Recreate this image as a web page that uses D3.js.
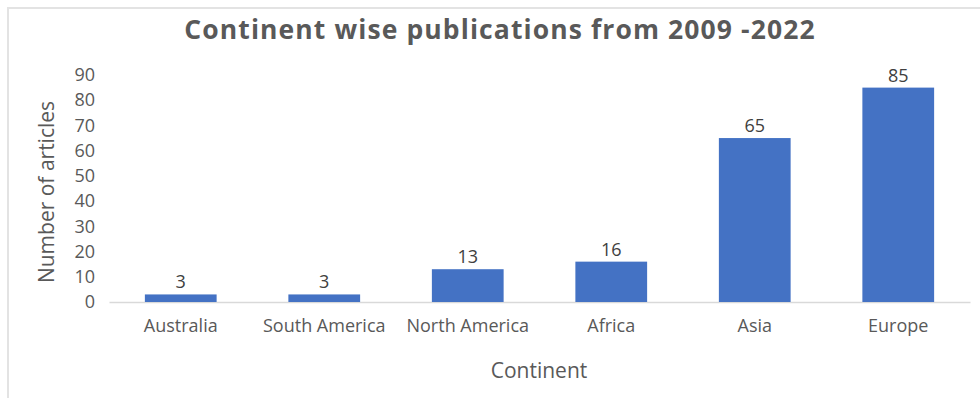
<!DOCTYPE html>
<html>
<head>
<meta charset="utf-8">
<script src="https://cdn.jsdelivr.net/npm/d3@7"></script>
<style>
	body { margin: 0; background: #fff; }
	svg { display: block; font-family: "Open Sans", sans-serif; }
</style>
</head>
<body>
<script>
var continents = ["Australia", "South America", "North America", "Africa", "Asia", "Europe"];
var articles = [3, 3, 13, 16, 65, 85];
var yTicks = [0, 10, 20, 30, 40, 50, 60, 70, 80, 90];
var title = "Continent wise publications from 2009 -2022";

var W = 980, H = 403;
var m = { left: 109, right: 10, top: 75, bottom: 101 }; // plot box 109..970, 75..302

var svg = d3.select("body").append("svg").attr("width", W).attr("height", H);

// frame
svg.append("path")
	.attr("d", "M8,398 L8,8 L980,8")
	.attr("fill", "none")
	.attr("stroke", "#e3e3e3")
	.attr("stroke-width", 2);

var x = d3.scaleBand()
	.domain(continents)
	.range([m.left, W - m.right])
	.paddingInner(0.5)
	.paddingOuter(0.25);

var y = d3.scaleLinear()
	.domain([0, 90])
	.range([H - m.bottom, m.top]);

// title
svg.append("text")
	.attr("x", 500)
	.attr("y", 39)
	.attr("text-anchor", "middle")
	.attr("font-size", 26.5)
	.attr("font-weight", "bold")
	.attr("letter-spacing", 1.1)
	.attr("fill", "#595959")
	.text(title);

// y axis labels only
var gY = svg.append("g")
	.attr("transform", "translate(" + m.left + ",0)")
	.call(d3.axisLeft(y).tickValues(yTicks).tickSize(0).tickPadding(14));
gY.select(".domain").remove();
gY.selectAll("text")
	.attr("font-family", "Open Sans, sans-serif")
	.attr("font-size", 18)
	.attr("fill", "#595959");

// x axis
var gX = svg.append("g")
	.attr("transform", "translate(0," + (H - m.bottom) + ")")
	.call(d3.axisBottom(x).tickSize(0).tickPadding(17));
gX.select(".domain").attr("stroke", "#d9d9d9").attr("stroke-width", 1.5);
gX.selectAll("text")
	.attr("font-family", "Open Sans, sans-serif")
	.attr("font-size", 18)
	.attr("fill", "#595959");

// bars
svg.append("g").selectAll("rect")
	.data(articles)
	.join("rect")
	.attr("x", function(d, i) { return x(continents[i]); })
	.attr("y", function(d) { return y(d); })
	.attr("width", x.bandwidth())
	.attr("height", function(d) { return y(0) - y(d); })
	.attr("fill", "#4472c4");

// value labels
svg.append("g").selectAll("text")
	.data(articles)
	.join("text")
	.attr("x", function(d, i) { return x(continents[i]) + x.bandwidth() / 2; })
	.attr("y", function(d) { return y(d) - 6; })
	.attr("text-anchor", "middle")
	.attr("font-size", 18)
	.attr("fill", "#404040")
	.text(function(d) { return d; });

// axis titles
svg.append("text")
	.attr("x", 539)
	.attr("y", 378)
	.attr("text-anchor", "middle")
	.attr("font-size", 21)
	.attr("fill", "#595959")
	.text("Continent");

svg.append("text")
	.attr("transform", "translate(54,192) rotate(-90)")
	.attr("text-anchor", "middle")
	.attr("font-size", 21)
	.attr("fill", "#595959")
	.text("Number of articles");
</script>
</body>
</html>
